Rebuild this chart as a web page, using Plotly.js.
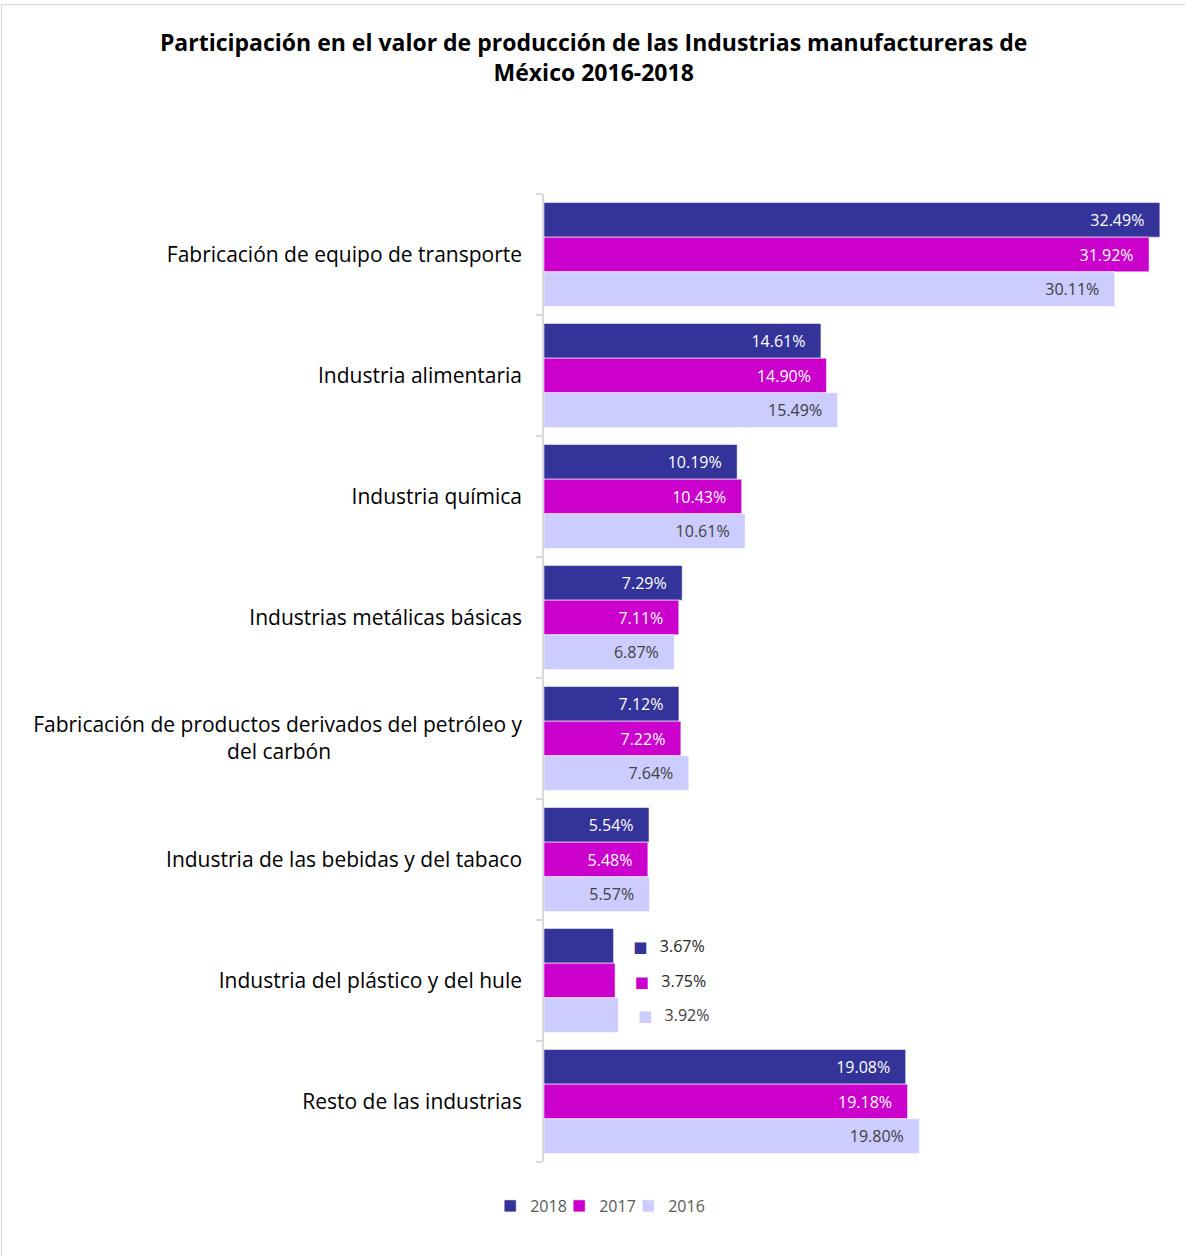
<!DOCTYPE html>
<html>
<head>
<meta charset="utf-8">
<script src="https://cdn.plot.ly/plotly-3.0.1.min.js"></script>
<style>
  html, body { margin: 0; padding: 0; background: #fff; }
  #wrap { position: relative; width: 1185px; height: 1256px; overflow: hidden; }
  #frame { position: absolute; left: 1px; top: 4px; width: 1300px; height: 1400px; border-left: 1px solid #d9d9d9; border-top: 1px solid #d9d9d9; pointer-events: none; }
  #chart { position: absolute; left: 0; top: 0; width: 1185px; height: 1256px; }
  #chart .legend .scrollbox { clip-path: none !important; }
</style>
</head>
<body>
<div id="wrap">
  <div id="chart"></div>
  <div id="frame"></div>
</div>
<script>
const categories = [
  "Fabricación de equipo de transporte",
  "Industria alimentaria",
  "Industria química",
  "Industrias metálicas básicas",
  "Fabricación de productos derivados del petróleo y del carbón",
  "Industria de las bebidas y del tabaco",
  "Industria del plástico y del hule",
  "Resto de las industrias"
];
const tickLabels = [
  "Fabricación de equipo de transporte",
  "Industria alimentaria",
  "Industria química",
  "Industrias metálicas básicas",
  "Fabricación de productos derivados del petróleo y<br>del carbón" + "\u00a0".repeat(35),
  "Industria de las bebidas y del tabaco",
  "Industria del plástico y del hule",
  "Resto de las industrias"
];
const years = ["2018", "2017", "2016"];
const values2018 = [32.49, 14.61, 10.19, 7.29, 7.12, 5.54, 3.67, 19.08];
const values2017 = [31.92, 14.90, 10.43, 7.11, 7.22, 5.48, 3.75, 19.18];
const values2016 = [30.11, 15.49, 10.61, 6.87, 7.64, 5.57, 3.92, 19.80];
const outsideCategory = "Industria del plástico y del hule";

const FONT = "'Open Sans', Lato, sans-serif";
const colors = ["#333399", "#CC00CC", "#CCCCFF"];
const insideColors = ["#ffffff", "#ffffff", "#404040"];
const outsideColors = ["#262626", "#262626", "#404040"];
const series = [values2018, values2017, values2016];

const NB = "\u00a0";
const traces = series.map((vals, i) => {
  const text = vals.map((v, j) => {
    const lab = v.toFixed(2) + "%";
    if (categories[j] === outsideCategory) {
      return NB.repeat(4) + '<span style="color:' + colors[i] + ';font-family:DejaVu Sans;font-size:15px">■</span>' + NB.repeat(3) + lab;
    }
    return lab + NB.repeat(3);
  });
  const pos = categories.map(c => c === outsideCategory ? "outside" : "inside");
  return {
    type: "bar",
    orientation: "h",
    name: years[i],
    y: categories,
    x: vals,
    text: text,
    texttemplate: "%{text}",
    textposition: pos,
    insidetextanchor: "end",
    constraintext: "none",
    cliponaxis: false,
    insidetextfont: { family: FONT, size: 16, color: insideColors[i] },
    outsidetextfont: { family: FONT, size: 16, color: outsideColors[i] },
    marker: { color: colors[i], line: { color: "rgba(255,255,255,0.7)", width: 0.75 } },
    hoverinfo: "x+y"
  };
});

const layout = {
  width: 1185,
  height: 1256,
  paper_bgcolor: "#ffffff",
  plot_bgcolor: "#ffffff",
  font: { family: FONT, color: "#000" },
  title: {
    text: "<b>Participación en el valor de producción de las Industrias manufactureras de<br>México 2016-2018</b>",
    font: { family: FONT, size: 23, color: "#000" },
    x: 0.501, xref: "container", xanchor: "center",
    y: 1 - 51 / 1256, yref: "container", yanchor: "top"
  },
  barmode: "group",
  bargap: 0.14,
  bargroupgap: 0,
  margin: { l: 544, r: 6, t: 194, b: 94 },
  xaxis: {
    range: [0, 33.5],
    visible: false,
    showgrid: false,
    zeroline: false,
    fixedrange: true
  },
  yaxis: {
    type: "category",
    categoryorder: "array",
    categoryarray: categories,
    tickmode: "array",
    tickvals: categories,
    ticktext: tickLabels,
    autorange: "reversed",
    tickson: "boundaries",
    ticks: "outside",
    ticklen: 6,
    tickwidth: 1.5,
    tickcolor: "#d9d9d9",
    showline: true,
    linecolor: "#d9d9d9",
    linewidth: 1.5,
    showgrid: false,
    zeroline: false,
    ticklabelstandoff: 16,
    tickfont: { family: FONT, size: 21, color: "#000" },
    fixedrange: true
  },
  legend: {
    orientation: "h",
    xref: "container",
    yref: "container",
    x: 0.501,
    xanchor: "center",
    y: 50 / 1256,
    yanchor: "middle",
    entrywidth: 24,
    font: { family: FONT, size: 16, color: "#595959" },
    traceorder: "normal",
    itemclick: false,
    itemdoubleclick: false
  },
  showlegend: true
};

Plotly.newPlot("chart", traces, layout, { displayModeBar: false, staticPlot: false });
</script>
</body>
</html>
